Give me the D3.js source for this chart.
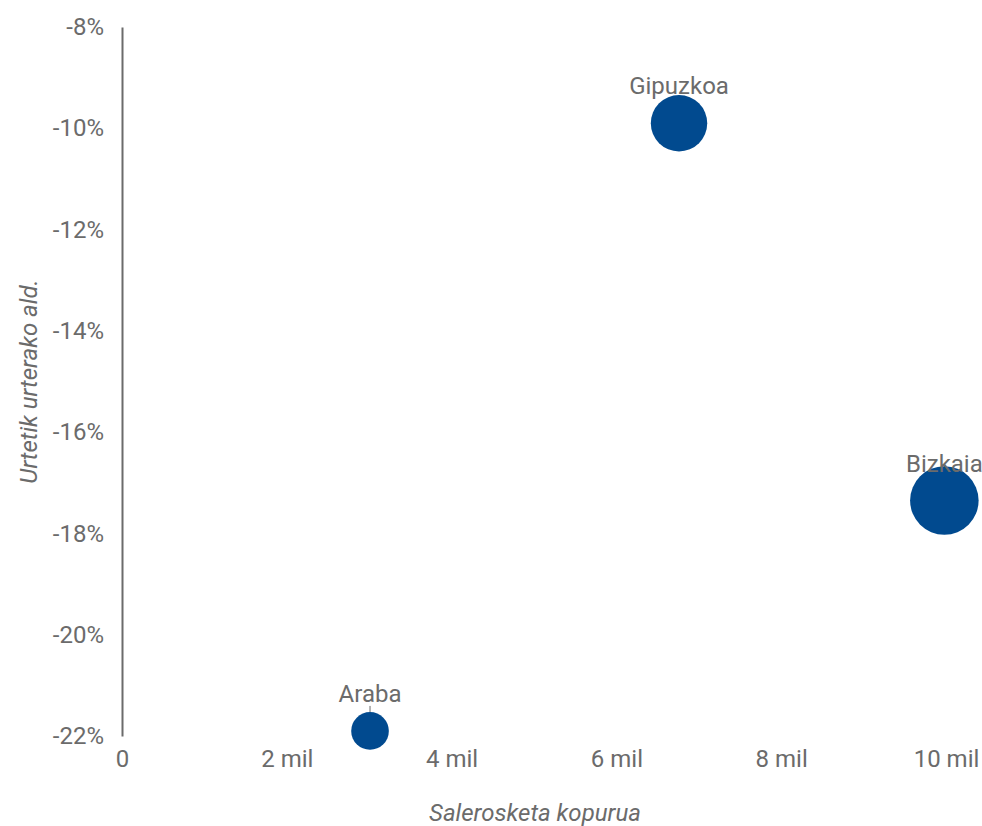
<!DOCTYPE html>
<html>
<head>
<meta charset="utf-8">
<script src="https://cdn.jsdelivr.net/npm/d3@7"></script>
<style>
  body { margin: 0; background: #fff; }
  svg text { font-family: Roboto, "Noto Sans", sans-serif; fill: #6b6b6b; }
</style>
</head>
<body>
<svg id="chart"></svg>
<script>
var width = 982,
    height = 826;

// data
var regions = ["Araba", "Gipuzkoa", "Bizkaia"],
    sales = [3010, 6760, 9980],
    change = [-0.219, -0.099, -0.1735];

var xTicks = [0, 2000, 4000, 6000, 8000, 10000],
    yTicks = [-0.08, -0.10, -0.12, -0.14, -0.16, -0.18, -0.20, -0.22];

var fontSize = "24px";

var svg = d3.select("#chart").attr("width", width).attr("height", height);

var x = d3.scaleLinear().domain([0, 10000]).range([122, 946]),
    y = d3.scaleLinear().domain([-0.22, -0.08]).range([736, 27]),
    r = d3.scaleSqrt().domain([0, 10000]).range([0, 34.3]);

// y axis
var yAxis = svg.append("g")
    .attr("transform", "translate(" + x(0) + ",0)")
    .call(d3.axisLeft(y).tickValues(yTicks).tickSize(0).tickPadding(18)
        .tickFormat(function(d) { return Math.round(d * 100) + "%"; }));
yAxis.select(".domain").attr("stroke", "#6b6b6b").attr("stroke-width", 2);
yAxis.selectAll("text").style("font-size", fontSize).attr("fill", "#6b6b6b");

// x axis (labels only)
var xAxis = svg.append("g")
    .attr("transform", "translate(0," + y(-0.22) + ")")
    .call(d3.axisBottom(x).tickValues(xTicks).tickSize(0).tickPadding(14)
        .tickFormat(function(d) { return d == 0 ? "0" : (d / 1000) + " mil"; }));
xAxis.select(".domain").remove();
xAxis.selectAll("text").style("font-size", fontSize).attr("fill", "#6b6b6b");

// axis titles
svg.append("text")
    .attr("transform", "translate(37," + ((y(-0.08) + y(-0.22)) / 2) + ") rotate(-90)")
    .attr("text-anchor", "middle")
    .style("font-size", fontSize)
    .style("font-style", "italic")
    .text("Urtetik urterako ald.");

svg.append("text")
    .attr("x", (x(0) + x(10000)) / 2 + 1)
    .attr("y", 821)
    .attr("text-anchor", "middle")
    .style("font-size", fontSize)
    .style("font-style", "italic")
    .text("Salerosketa kopurua");

// bubbles
var points = regions.map(function(name, i) {
    return { name: name, sales: sales[i], change: change[i] };
});

svg.selectAll(".leader")
    .data(points)
    .enter()
    .append("line")
    .attr("class", "leader")
    .attr("x1", function(d) { return x(d.sales); })
    .attr("x2", function(d) { return x(d.sales); })
    .attr("y1", function(d) { return y(d.change) - 25; })
    .attr("y2", function(d) { return y(d.change) - r(d.sales); })
    .attr("stroke", "#6b6b6b")
    .attr("stroke-width", 1);

svg.selectAll(".bubble")
    .data(points)
    .enter()
    .append("circle")
    .attr("class", "bubble")
    .attr("cx", function(d) { return x(d.sales); })
    .attr("cy", function(d) { return y(d.change); })
    .attr("r", function(d) { return r(d.sales); })
    .attr("fill", "#014a8f");

svg.selectAll(".label")
    .data(points)
    .enter()
    .append("text")
    .attr("class", "label")
    .attr("x", function(d) { return x(d.sales); })
    .attr("y", function(d) { return y(d.change) - 29; })
    .attr("text-anchor", "middle")
    .style("font-size", fontSize)
    .text(function(d) { return d.name; });
</script>
</body>
</html>
